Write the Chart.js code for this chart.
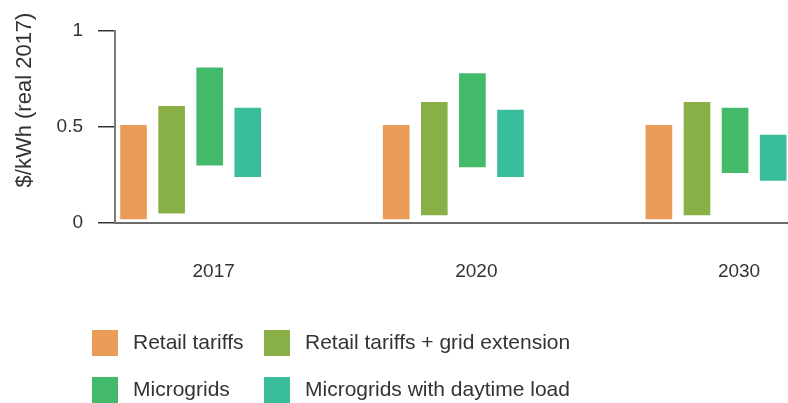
<!DOCTYPE html>
<html>
<head>
<meta charset="utf-8">
<script src="https://cdn.jsdelivr.net/npm/chart.js@4"></script>
<style>
  body { margin: 0; background: #fff; }
  #wrap { width: 788px; height: 403px; }
</style>
</head>
<body>
<div id="wrap"><canvas id="costChart"></canvas></div>
<script>
// values, $/kWh (real 2017)
const years = ["2017", "2020", "2030"];
const seriesNames = ["Retail tariffs", "Retail tariffs + grid extension", "Microgrids", "Microgrids with daytime load"];
const seriesColors = ["#e89c58", "#88b046", "#43b96a", "#3abd9b"];

const retailLow = [0.02, 0.02, 0.02];
const retailHigh = [0.51, 0.51, 0.51];
const gridLow = [0.05, 0.04, 0.04];
const gridHigh = [0.61, 0.63, 0.63];
const microLow = [0.30, 0.29, 0.26];
const microHigh = [0.81, 0.78, 0.60];
const daytimeLow = [0.24, 0.24, 0.22];
const daytimeHigh = [0.60, 0.59, 0.46];

const yTicks = [0, 0.5, 1];
const yTitle = "$/kWh (real 2017)";

const FONT = "'Liberation Sans', Arial, sans-serif";

function ranges(lo, hi) {
    return years.map((y, i) => ({ x: i, y: [lo[i], hi[i]] }));
}

const lows = [retailLow, gridLow, microLow, daytimeLow];
const highs = [retailHigh, gridHigh, microHigh, daytimeHigh];

// legend in two columns + rotated y title, drawn on the canvas
const extrasPlugin = {
    id: "extras",
    afterDraw(chart) {
        const ctx = chart.ctx;
        ctx.save();

        ctx.fillStyle = "#333";
        ctx.font = "22px " + FONT;
        ctx.textAlign = "center";
        ctx.textBaseline = "middle";
        ctx.translate(25, 100);
        ctx.rotate(-Math.PI / 2);
        ctx.fillText(yTitle, 0, 0);
        ctx.setTransform(1, 0, 0, 1, 0, 0);

        const cols = [92, 264];
        const rows = [330, 377];
        const box = 26;
        ctx.font = "21px " + FONT;
        ctx.textAlign = "left";
        chart.data.datasets.forEach(function (ds, i) {
            const x = cols[i % 2];
            const y = rows[Math.floor(i / 2)];
            ctx.fillStyle = ds.backgroundColor;
            ctx.fillRect(x, y, box, box);
            ctx.fillStyle = "#333";
            ctx.fillText(ds.label, x + box + 15, y + box / 2);
        });
        ctx.restore();
    }
};

new Chart(document.getElementById("costChart"), {
    type: "bar",
    data: {
        datasets: seriesNames.map((name, i) => ({
            label: name,
            data: ranges(lows[i], highs[i]),
            backgroundColor: seriesColors[i],
            borderWidth: 0,
            categoryPercentage: 0.58,
            barPercentage: 0.70
        }))
    },
    options: {
        responsive: true,
        maintainAspectRatio: false,
        animation: false,
        layout: { padding: { top: 31, bottom: 120, left: 0, right: 0 } },
        plugins: {
            legend: { display: false },
            tooltip: { enabled: false }
        },
        scales: {
            x: {
                type: "linear",
                offset: false,
                bounds: "data",
                min: -0.288,
                max: 2.274,
                afterBuildTicks: function (scale) {
                    scale.ticks = years.map((y, i) => ({ value: i }));
                },
                afterFit: function (scale) { scale.height = 60; },
                grid: { display: false, offset: false },
                border: { display: true, color: "#6b6b6b", width: 2 },
                ticks: {
                    callback: (v) => years[v],
                    labelOffset: 23,
                    padding: 29,
                    color: "#333",
                    font: { family: FONT, size: 19 }
                }
            },
            y: {
                min: 0,
                max: 1,
                afterBuildTicks: function (scale) {
                    scale.ticks = yTicks.map(v => ({ value: v }));
                },
                afterFit: function (scale) { scale.width = 115; },
                grid: {
                    drawOnChartArea: false,
                    drawTicks: true,
                    tickLength: 17,
                    color: "#333",
                    lineWidth: 1.5
                },
                border: { display: true, color: "#7a7a7a", width: 2 },
                ticks: {
                    padding: 15,
                    color: "#333",
                    font: { family: FONT, size: 19 },
                    callback: (v) => String(v)
                }
            }
        }
    },
    plugins: [extrasPlugin]
});
</script>
</body>
</html>
